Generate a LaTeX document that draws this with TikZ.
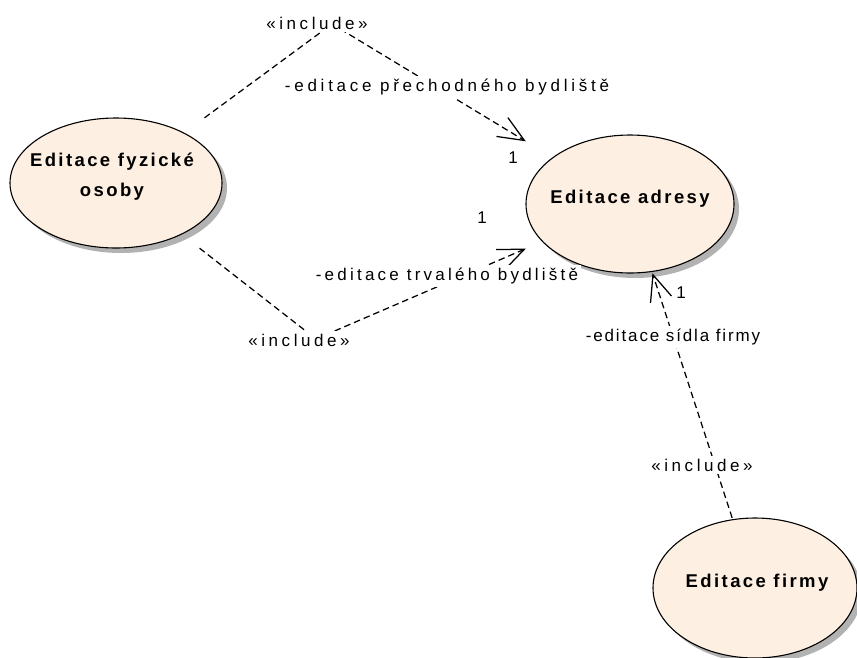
\documentclass[tikz,border=0pt]{standalone}
\usepackage{fontspec}
\setmainfont{Liberation Sans}
\usetikzlibrary{arrows.meta}
\definecolor{ucfill}{RGB}{253,240,226}
\definecolor{ucshade}{RGB}{178,178,178}
\begin{document}
\begin{tikzpicture}[x=1pt,y=-1pt,
  ucbox/.style={rectangle,inner sep=0pt,draw=none},
  ucell/.style={draw=black,line width=1.1pt,fill=ucfill},
  ucshadow/.style={fill=ucshade},
  uctext/.style={align=center,inner sep=0pt,
    font=\fontsize{18.5}{30}\selectfont\bfseries\addfontfeature{LetterSpace=13}},
  dep/.style={line width=1.25pt,dash pattern=on 6.5pt off 4pt,
    -{Straight Barb[length=26pt,width=22pt]}},
  lbl/.style={fill=white,inner sep=2.5pt,
    font=\fontsize{17}{20}\selectfont\addfontfeature{LetterSpace=#1}},
  mult/.style={inner sep=0pt,font=\fontsize{17}{20}\selectfont}]
\useasboundingbox (0,0) rectangle (857,657);

% use cases: bounding boxes that the connectors attach to
\node[ucbox,minimum width=212pt,minimum height=130pt] (fyz) at (116,183) {};
\node[ucbox,minimum width=208pt,minimum height=138pt] (adresy) at (630,204) {};
\node[ucbox,minimum width=204pt,minimum height=140pt] (firmy) at (755,588) {};

% shadows, then the ellipses themselves
\fill[ucshadow] ([xshift=5pt,yshift=-5pt]fyz.center) ellipse [x radius=106,y radius=65];
\fill[ucshadow] ([xshift=5pt,yshift=-5pt]adresy.center) ellipse [x radius=104,y radius=69];
\fill[ucshadow] ([xshift=5pt,yshift=-5pt]firmy.center) ellipse [x radius=102,y radius=70];
\draw[ucell] (fyz.center) ellipse [x radius=106,y radius=65];
\draw[ucell] (adresy.center) ellipse [x radius=104,y radius=69];
\draw[ucell] (firmy.center) ellipse [x radius=102,y radius=70];

\node[uctext] (fyzt) at ([xshift=-4pt,yshift=6pt]fyz.center) {Editace fyzické\\osoby};
\node[uctext] (adresyt) at ([xshift=0pt,yshift=5pt]adresy.center) {Editace adresy};
\node[uctext] (firmyt) at ([xshift=2pt,yshift=5pt]firmy.center) {Editace firmy};

% include dependencies
\coordinate (bendA) at (332,24);
\coordinate (bendB) at (316,339);
\draw[dep] (fyz) -- (bendA) -- (adresy);
\draw[dep] (fyz) -- (bendB) -- (adresy);
\draw[dep] (firmy) -- (adresy);

% connector labels
\node[lbl=21] (incA) at (317,23) {«include»};
\node[lbl=22] (roleA) at (447,87) {-editace přechodného bydliště};
\node[mult] (oneA) at (513,158) {1};
\node[mult] (oneB) at (482,218) {1};
\node[lbl=19] (roleB) at (447,276) {-editace trvalého bydliště};
\node[lbl=21] (incB) at (299,340) {«include»};
\node[mult] (oneC) at (681,293) {1};
\node[lbl=11] (roleC) at (673,337) {-editace sídla firmy};
\node[lbl=21] (incC) at (702,465) {«include»};
\end{tikzpicture}
\end{document}
